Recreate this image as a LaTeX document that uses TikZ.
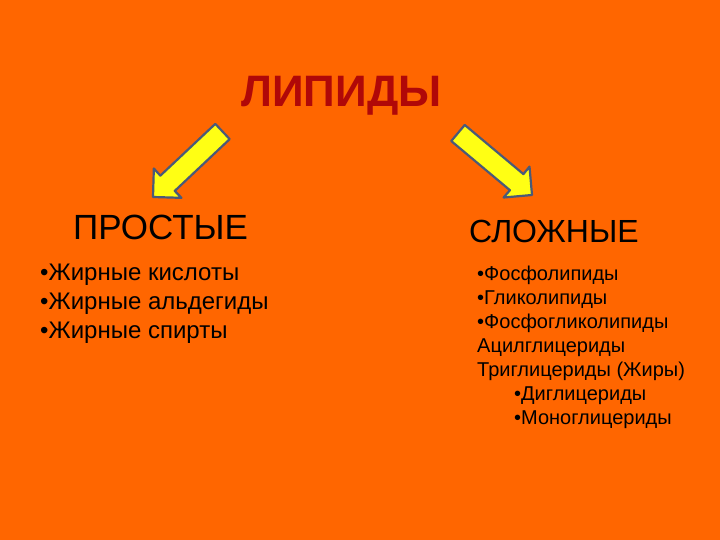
\documentclass[tikz,border=0pt]{standalone}
\usepackage{fontspec}
\setmainfont{Liberation Sans}
\usetikzlibrary{calc}
\definecolor{bgorange}{HTML}{FF6600}
\definecolor{titlered}{HTML}{B00808}
\definecolor{arrowline}{HTML}{4A5A78}
\definecolor{arrowfill}{HTML}{FFFF14}
\newcommand\fatarrow[2]{%
  \draw[fatarr]
    (#1)
    -- ($(#1)!28.5pt!45:(#2)$)
    -- ($($(#1)!20pt!(#2)$)!10.5pt!90:(#2)$)
    -- ($(#2)!10.5pt!-90:(#1)$)
    -- ($(#2)!10.5pt!90:(#1)$)
    -- ($($(#1)!20pt!(#2)$)!10.5pt!-90:(#2)$)
    -- ($(#1)!28.5pt!-45:(#2)$)
    -- cycle;}
\begin{document}
\begin{tikzpicture}[x=1pt,y=-1pt,
  fatarr/.style={draw=arrowline,fill=arrowfill,line width=2.2pt,line join=round},
  txt/.style={inner sep=0pt,anchor=base west,text=black},
  title/.style={inner sep=0pt,anchor=base,text=titlered,font=\fontsize{44}{50}\selectfont\bfseries},
  head/.style={txt,font=\fontsize{#1}{#1}\selectfont},
  item/.style={txt,font=\fontsize{#1}{#1}\selectfont}]
\fill[bgorange] (0,0) rectangle (720,540);
\useasboundingbox (0,0) rectangle (720,540);
\node[title] (lip) at (341.5,107) {ЛИПИДЫ};
\coordinate (ltip) at (153,197);
\coordinate (ltail) at (222.5,131.5);
\coordinate (rtip) at (532,195);
\coordinate (rtail) at (458,133);
\fatarrow{ltip}{ltail}
\fatarrow{rtip}{rtail}
\node[head=35] (pro) at (73,240) {ПРОСТЫЕ};
\node[head=32] (slo) at (469,243) {СЛОЖНЫЕ};
\node[item=24] (l1) at (40,280) {•Жирные кислоты};
\node[item=24] (l2) at (40,309) {•Жирные альдегиды};
\node[item=24] (l3) at (40,338) {•Жирные спирты};
\node[item=20] (r1) at (477,280) {•Фосфолипиды};
\node[item=20] (r2) at (477,304) {•Гликолипиды};
\node[item=20] (r3) at (477,328) {•Фосфогликолипиды};
\node[item=20] (r4) at (477,352) {Ацилглицериды};
\node[item=20] (r5) at (477,376) {Триглицериды (Жиры)};
\node[item=20] (r6) at (514,400) {•Диглицериды};
\node[item=20] (r7) at (514,424) {•Моноглицериды};
\end{tikzpicture}
\end{document}
